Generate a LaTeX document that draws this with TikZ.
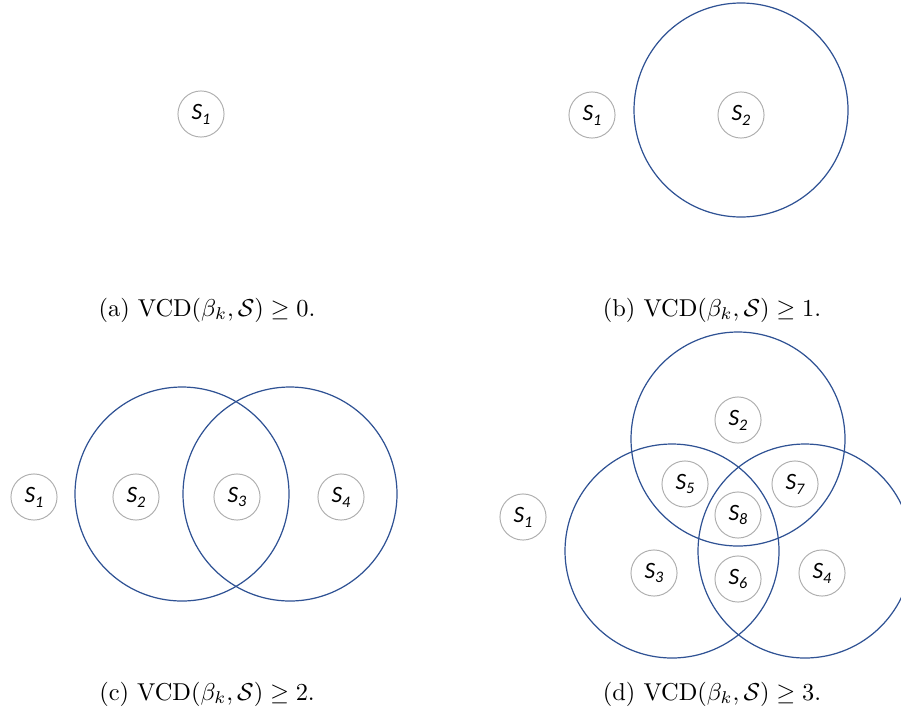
\documentclass[tikz,border=0pt]{standalone}
\usepackage{fontspec}
\usepackage{amssymb}
\newfontfamily\lblfont{Carlito}
\usetikzlibrary{positioning}
\definecolor{setgray}{RGB}{175,175,175}
\definecolor{ringblue}{RGB}{47,82,148}
\tikzstyle{set}=[draw=setgray,line width=0.4pt,circle,minimum size=18.9pt,inner sep=0pt,font=\lblfont\itshape\fontsize{9.6}{10}\selectfont]
\tikzstyle{region}=[draw=ringblue,line width=0.5pt]
\tikzstyle{caption}=[font=\fontsize{10}{12}\selectfont]
\newcommand{\sn}[1]{\textit{S\raisebox{-2pt}{\fontsize{6.6}{7}\selectfont #1}}}

\begin{document}
\begin{tikzpicture}[x=0.41pt, y=-0.41pt]
            \useasboundingbox (0,0) rectangle (901,713);
            % (a)
            \node[set] (aS1) at (201,114) {\sn{1}};
            \node[caption] (acap) at (207,310) {(a) VCD$(\beta_k,\mathcal{S})\geq 0$.};
            % (b)
            \draw[region] (741,110) circle (107);
            \node[set] (bS1) at (592,115) {\sn{1}};
            \node[set] (bS2) at (741,115) {\sn{2}};
            \node[caption] (bcap) at (712,310) {(b) VCD$(\beta_k,\mathcal{S})\geq 1$.};
            % (c)
            \draw[region] (182,494) circle (107);
            \draw[region] (290,494) circle (107);
            \node[set] (cS1) at (34,497) {\sn{1}};
            \node[set] (cS2) at (136,497) {\sn{2}};
            \node[set] (cS3) at (237,497) {\sn{3}};
            \node[set] (cS4) at (341,497) {\sn{4}};
            \node[caption] (ccap) at (207,694) {(c) VCD$(\beta_k,\mathcal{S})\geq 2$.};
            % (d)
            \draw[region] (738,439) circle (107);
            \draw[region] (672,551) circle (107);
            \draw[region] (805,551) circle (107);
            \node[set] (dS1) at (523,517) {\sn{1}};
            \node[set] (dS2) at (738,420) {\sn{2}};
            \node[set] (dS5) at (685,484) {\sn{5}};
            \node[set] (dS7) at (795,484) {\sn{7}};
            \node[set] (dS8) at (738,515) {\sn{8}};
            \node[set] (dS3) at (654,573) {\sn{3}};
            \node[set] (dS6) at (738,579) {\sn{6}};
            \node[set] (dS4) at (822,573) {\sn{4}};
            \node[caption] (dcap) at (712,694) {(d) VCD$(\beta_k,\mathcal{S})\geq 3$.};
        \end{tikzpicture}
\end{document}
